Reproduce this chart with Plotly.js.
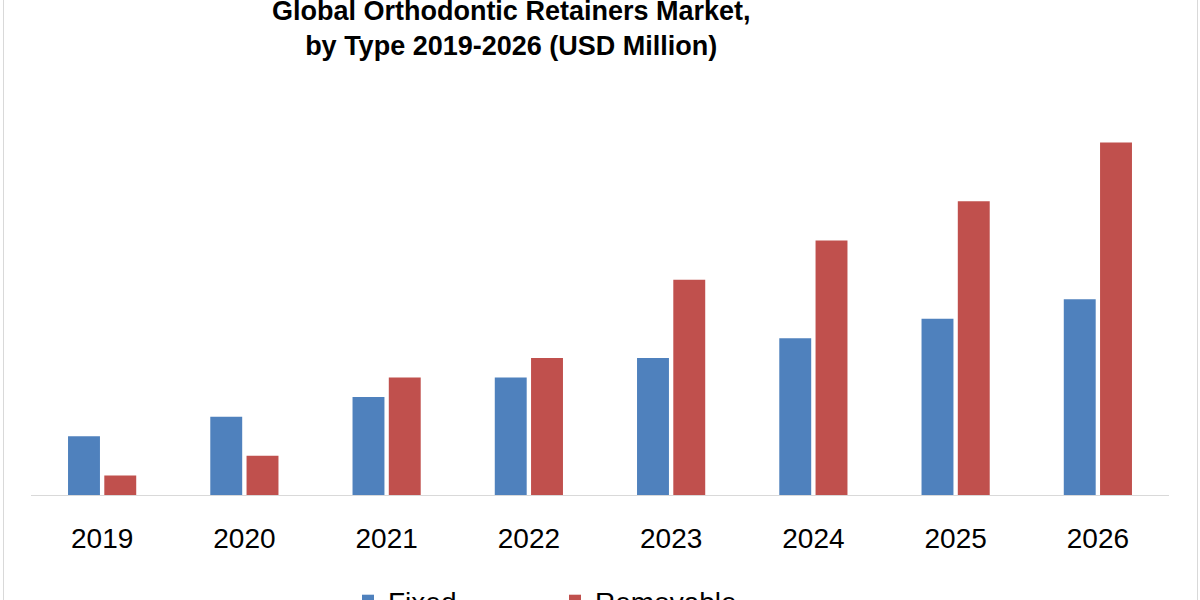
<!DOCTYPE html>
<html>
<head>
<meta charset="utf-8">
<script src="https://cdn.plot.ly/plotly-3.0.1.min.js"></script>
<style>
  html, body { margin: 0; padding: 0; background: #ffffff; }
  #frame { position: absolute; left: 0; top: 0; width: 1200px; height: 600px; }
  #border { position: absolute; left: 3px; top: -2px; width: 1193px; height: 610px; border: 1px solid #d9d9d9; pointer-events: none; }
</style>
</head>
<body>
<div id="frame"></div>
<div id="border"></div>
<script>
const years = ['2019', '2020', '2021', '2022', '2023', '2024', '2025', '2026'];
const fixedValues = [3, 4, 5, 6, 7, 8, 9, 10];
const removableValues = [1, 2, 6, 7, 11, 13, 15, 18];
const seriesNames = ['Fixed', 'Removable'];
const titleText = 'Global Orthodontic Retainers Market,<br>by Type 2019-2026 (USD Million)';

const traces = [
  { type: 'bar', name: seriesNames[0], x: years, y: fixedValues,
    marker: { color: '#4F81BD' }, hoverinfo: 'x+y+name' },
  { type: 'bar', name: seriesNames[1], x: years, y: removableValues,
    marker: { color: '#C0504D' }, hoverinfo: 'x+y+name' }
];

const layout = {
  width: 1200, height: 600,
  paper_bgcolor: '#ffffff', plot_bgcolor: '#ffffff',
  margin: { l: 31, r: 31, t: 123, b: 105, pad: 0 },
  barmode: 'group', bargap: 0.49, bargroupgap: 0.12,
  title: {
    text: titleText,
    font: { family: '"Liberation Sans", Arial, sans-serif', size: 27, color: '#000000', weight: 'bold' },
    xref: 'container', x: 0.426, xanchor: 'center',
    yref: 'container', y: 0.967, yanchor: 'top', pad: { t: 0 }
  },
  xaxis: {
    type: 'category', showline: true, linecolor: '#d9d9d9', linewidth: 1,
    showgrid: false, zeroline: false, ticks: '',
    tickfont: { family: '"Liberation Sans", Arial, sans-serif', size: 28, color: '#000000' },
    ticklabelstandoff: 18
  },
  yaxis: { range: [0, 19], visible: false, showgrid: false, zeroline: false },
  showlegend: true,
  legend: {
    orientation: 'h', xref: 'container', yref: 'container',
    x: 0.29, xanchor: 'left', y: 0.04, yanchor: 'top',
    font: { family: '"Liberation Sans", Arial, sans-serif', size: 28, color: '#000000' },
    entrywidth: 162, entrywidthmode: 'pixels', bgcolor: 'rgba(0,0,0,0)'
  }
};

Plotly.newPlot('frame', traces, layout, { displayModeBar: false, staticPlot: true });
</script>
</body>
</html>
